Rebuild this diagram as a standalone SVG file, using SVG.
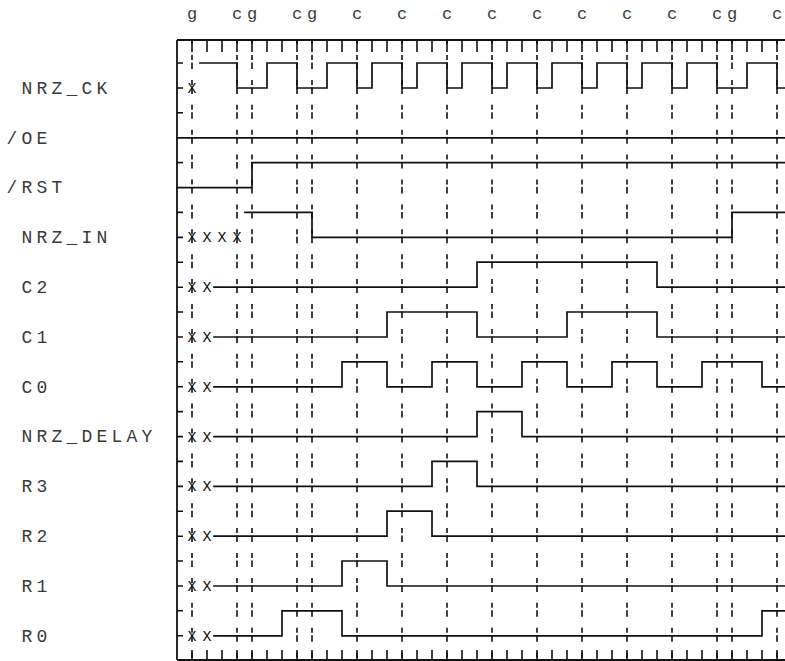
<svg xmlns="http://www.w3.org/2000/svg" width="785" height="661" viewBox="0 0 785 661">
<defs>
<style>
.frame{stroke:#111;stroke-width:1.8;fill:none}
.tick{stroke:#111;stroke-width:1.6;fill:none}
.grid{stroke:#111;stroke-width:1.6;stroke-dasharray:5 2.5 6.5 10.9;stroke-dashoffset:9.9}
.wave{stroke:#111;stroke-width:1.7;fill:none;stroke-linejoin:miter;stroke-linecap:square}
.lvl{stroke:#111;stroke-width:1.6;fill:none}
.lbl{font-family:"Liberation Mono","DejaVu Sans Mono",monospace;font-size:18px;fill:#3a3a3a;letter-spacing:4.2px}
.top{font-family:"Liberation Mono","DejaVu Sans Mono",monospace;font-size:17px;fill:#3a3a3a;text-anchor:middle}
.x{font-family:"Liberation Mono","DejaVu Sans Mono",monospace;font-size:15px;fill:#111;text-anchor:middle}
</style>
</defs>
<rect width="785" height="661" fill="#fff"/>

<g id="markers">
<text class="top" x="192" y="18.5">g</text>
<text class="top" x="237 252" y="18.5">cg</text>
<text class="top" x="297 312" y="18.5">cg</text>
<text class="top" x="357" y="18.5">c</text>
<text class="top" x="402" y="18.5">c</text>
<text class="top" x="447" y="18.5">c</text>
<text class="top" x="492" y="18.5">c</text>
<text class="top" x="537" y="18.5">c</text>
<text class="top" x="582" y="18.5">c</text>
<text class="top" x="627" y="18.5">c</text>
<text class="top" x="672" y="18.5">c</text>
<text class="top" x="717 732" y="18.5">cg</text>
<text class="top" x="777" y="18.5">c</text>
</g>

<g id="frame">
<path class="frame" d="M177 40H785M177 40V660M177 660H785"/>
<path class="tick" d="M192 40v12M207 40v12M222 40v12M237 40v12M252 40v12M267 40v12M282 40v12M297 40v12M312 40v12M327 40v12M342 40v12M357 40v12M372 40v12M387 40v12M402 40v12M417 40v12M432 40v12M447 40v12M462 40v12M477 40v12M492 40v12M507 40v12M522 40v12M537 40v12M552 40v12M567 40v12M582 40v12M597 40v12M612 40v12M627 40v12M642 40v12M657 40v12M672 40v12M687 40v12M702 40v12M717 40v12M732 40v12M747 40v12M762 40v12M777 40v12"/>
<path class="tick" d="M192 660v-10M207 660v-10M222 660v-10M237 660v-10M252 660v-10M267 660v-10M282 660v-10M297 660v-10M312 660v-10M327 660v-10M342 660v-10M357 660v-10M372 660v-10M387 660v-10M402 660v-10M417 660v-10M432 660v-10M447 660v-10M462 660v-10M477 660v-10M492 660v-10M507 660v-10M522 660v-10M537 660v-10M552 660v-10M567 660v-10M582 660v-10M597 660v-10M612 660v-10M627 660v-10M642 660v-10M657 660v-10M672 660v-10M687 660v-10M702 660v-10M717 660v-10M732 660v-10M747 660v-10M762 660v-10M777 660v-10"/>
</g>

<g id="gridlines">
<line class="grid" x1="192" y1="40" x2="192" y2="660"/>
<line class="grid" x1="237" y1="40" x2="237" y2="660"/>
<line class="grid" x1="252" y1="40" x2="252" y2="660"/>
<line class="grid" x1="297" y1="40" x2="297" y2="660"/>
<line class="grid" x1="312" y1="40" x2="312" y2="660"/>
<line class="grid" x1="357" y1="40" x2="357" y2="660"/>
<line class="grid" x1="402" y1="40" x2="402" y2="660"/>
<line class="grid" x1="447" y1="40" x2="447" y2="660"/>
<line class="grid" x1="492" y1="40" x2="492" y2="660"/>
<line class="grid" x1="537" y1="40" x2="537" y2="660"/>
<line class="grid" x1="582" y1="40" x2="582" y2="660"/>
<line class="grid" x1="627" y1="40" x2="627" y2="660"/>
<line class="grid" x1="672" y1="40" x2="672" y2="660"/>
<line class="grid" x1="717" y1="40" x2="717" y2="660"/>
<line class="grid" x1="732" y1="40" x2="732" y2="660"/>
<line class="grid" x1="777" y1="40" x2="777" y2="660"/>
</g>

<g id="sig-nrz_ck" transform="translate(0,88)">
<text class="lbl" x="21.6" y="5.8">NRZ_CK</text>
<path class="lvl" d="M177 -25h6M177 0h6"/>
<text class="x" x="192" y="5">X</text>
<path class="wave" d="M200 -25H237V0H267V-25H297V0H327V-25H357V0H372V-25H402V0H417V-25H447V0H462V-25H492V0H507V-25H537V0H552V-25H582V0H597V-25H627V0H642V-25H672V0H687V-25H717V0H747V-25H777V0H785"/>
</g>

<g id="sig-oe" transform="translate(0,137.8)">
<text class="lbl" x="6.6" y="5.8">/OE</text>
<path class="lvl" d="M177 -25h6"/>
<path class="wave" d="M177 0H785"/>
</g>

<g id="sig-rst" transform="translate(0,187.6)">
<text class="lbl" x="6.6" y="5.8">/RST</text>
<path class="lvl" d="M177 -25h6"/>
<path class="wave" d="M177 0H252V-25H785"/>
</g>

<g id="sig-nrz_in" transform="translate(0,237.4)">
<text class="lbl" x="21.6" y="5.8">NRZ_IN</text>
<path class="lvl" d="M177 -25h6M177 0h6"/>
<text class="x" x="192 207 222 237" y="5">XXXX</text>
<path class="wave" d="M245 -25H312V0H732V-25H785"/>
</g>

<g id="sig-c2" transform="translate(0,287.2)">
<text class="lbl" x="21.6" y="5.8">C2</text>
<path class="lvl" d="M177 -25h6M177 0h6"/>
<text class="x" x="192 207" y="5">XX</text>
<path class="wave" d="M214 0H477V-25H657V0H785"/>
</g>

<g id="sig-c1" transform="translate(0,337)">
<text class="lbl" x="21.6" y="5.8">C1</text>
<path class="lvl" d="M177 -25h6M177 0h6"/>
<text class="x" x="192 207" y="5">XX</text>
<path class="wave" d="M214 0H387V-25H477V0H567V-25H657V0H785"/>
</g>

<g id="sig-c0" transform="translate(0,386.8)">
<text class="lbl" x="21.6" y="5.8">C0</text>
<path class="lvl" d="M177 -25h6M177 0h6"/>
<text class="x" x="192 207" y="5">XX</text>
<path class="wave" d="M214 0H342V-25H387V0H432V-25H477V0H522V-25H567V0H612V-25H657V0H702V-25H762V0H785"/>
</g>

<g id="sig-nrz_delay" transform="translate(0,436.6)">
<text class="lbl" x="21.6" y="5.8">NRZ_DELAY</text>
<path class="lvl" d="M177 -25h6M177 0h6"/>
<text class="x" x="192 207" y="5">XX</text>
<path class="wave" d="M214 0H477V-25H522V0H785"/>
</g>

<g id="sig-r3" transform="translate(0,486.4)">
<text class="lbl" x="21.6" y="5.8">R3</text>
<path class="lvl" d="M177 -25h6M177 0h6"/>
<text class="x" x="192 207" y="5">XX</text>
<path class="wave" d="M214 0H432V-25H477V0H785"/>
</g>

<g id="sig-r2" transform="translate(0,536.2)">
<text class="lbl" x="21.6" y="5.8">R2</text>
<path class="lvl" d="M177 -25h6M177 0h6"/>
<text class="x" x="192 207" y="5">XX</text>
<path class="wave" d="M214 0H387V-25H432V0H785"/>
</g>

<g id="sig-r1" transform="translate(0,586)">
<text class="lbl" x="21.6" y="5.8">R1</text>
<path class="lvl" d="M177 -25h6M177 0h6"/>
<text class="x" x="192 207" y="5">XX</text>
<path class="wave" d="M214 0H342V-25H387V0H785"/>
</g>

<g id="sig-r0" transform="translate(0,635.8)">
<text class="lbl" x="21.6" y="5.8">R0</text>
<path class="lvl" d="M177 -25h6M177 0h6"/>
<text class="x" x="192 207" y="5">XX</text>
<path class="wave" d="M214 0H282V-25H342V0H762V-25H785"/>
</g>
</svg>
